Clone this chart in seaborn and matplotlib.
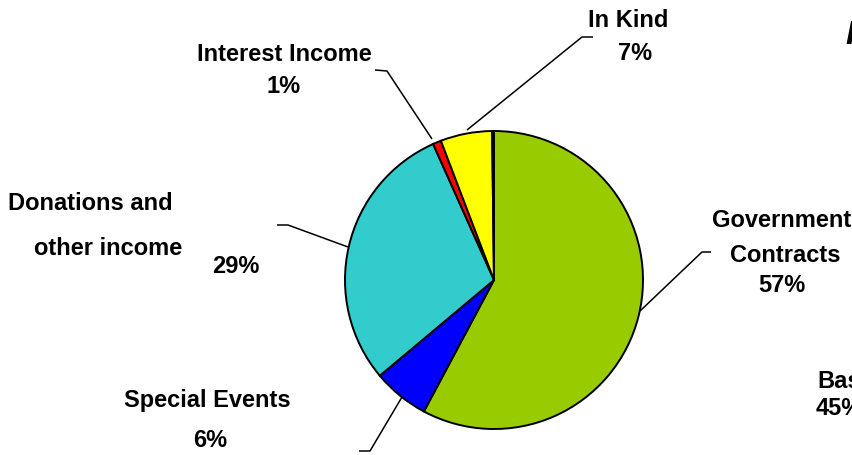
import matplotlib
matplotlib.use("Agg")
import matplotlib.pyplot as plt
import seaborn as sns

# ---- data ----
categories = ["Government Contracts", "Special Events", "Donations and other income",
              "Interest Income", "In Kind", ""]
values = [57.8, 6.1, 29.4, 0.9, 5.6, 0.2]
pct_labels = ["57%", "6%", "29%", "1%", "7%", ""]
colors = ["#99CC00", "#0000FF", "#33CCCC", "#FF0000", "#FFFF00", "#000000"]

sns.set_theme(style="white")
plt.rcParams["font.family"] = ["Liberation Sans", "DejaVu Sans"]

W, H = 852, 455
fig = plt.figure(figsize=(W / 100, H / 100), dpi=100)
ax = fig.add_axes([0, 0, 1, 1])

def Y(y):
    return H - y

ax.pie(values, colors=colors, startangle=90, counterclock=False,
       center=(494, Y(280)), radius=149,
       wedgeprops=dict(edgecolor="black", linewidth=1.4))
ax.set_xlim(0, W)
ax.set_ylim(0, H)
ax.set_aspect("equal")
ax.axis("off")

fs = 17
tk = dict(fontsize=fs, fontweight="bold", color="black", ha="center", va="baseline")

# leader lines (pixel coordinates)
leaders = [
    [(375, 70), (387, 71), (432, 139)],
    [(467, 130), (582, 37), (593, 37)],
    [(277, 225), (288, 225), (348, 247)],
    [(640, 311), (702, 252), (711, 252)],
    [(402, 397), (370, 451), (359, 451)],
]
for seg in leaders:
    xs = [p[0] for p in seg]
    ys = [Y(p[1]) for p in seg]
    ax.plot(xs, ys, color="black", lw=1.1, solid_capstyle="butt")

# labels
ax.text(284, Y(61), "Interest Income", **tk)
ax.text(284, Y(93), pct_labels[3], **tk)
ax.text(628, Y(27), "In Kind", **tk)
ax.text(635, Y(60), pct_labels[4], **tk)
ax.text(90, Y(210), "Donations and", **tk)
ax.text(108, Y(255), "other income", **tk)
ax.text(236, Y(273), pct_labels[2], **tk)
ax.text(782, Y(227), "Government", **tk)
ax.text(785, Y(262), "Contracts", **tk)
ax.text(782, Y(292), pct_labels[0], **tk)
ax.text(207, Y(407), "Special Events", **tk)
ax.text(210, Y(447), pct_labels[1], **tk)

# partially visible neighbouring chart text (cut off at the right edge, as in the reference)
ax.text(817, Y(388), "Base", fontsize=fs, fontweight="bold", color="black", ha="left", va="baseline")
ax.text(816, Y(415), "45%", fontsize=fs, fontweight="bold", color="black", ha="left", va="baseline")
ax.text(845, Y(44), "R", fontsize=24, fontweight="bold", style="italic", color="black",
        ha="left", va="baseline")

fig.savefig("out.png", dpi=100)
